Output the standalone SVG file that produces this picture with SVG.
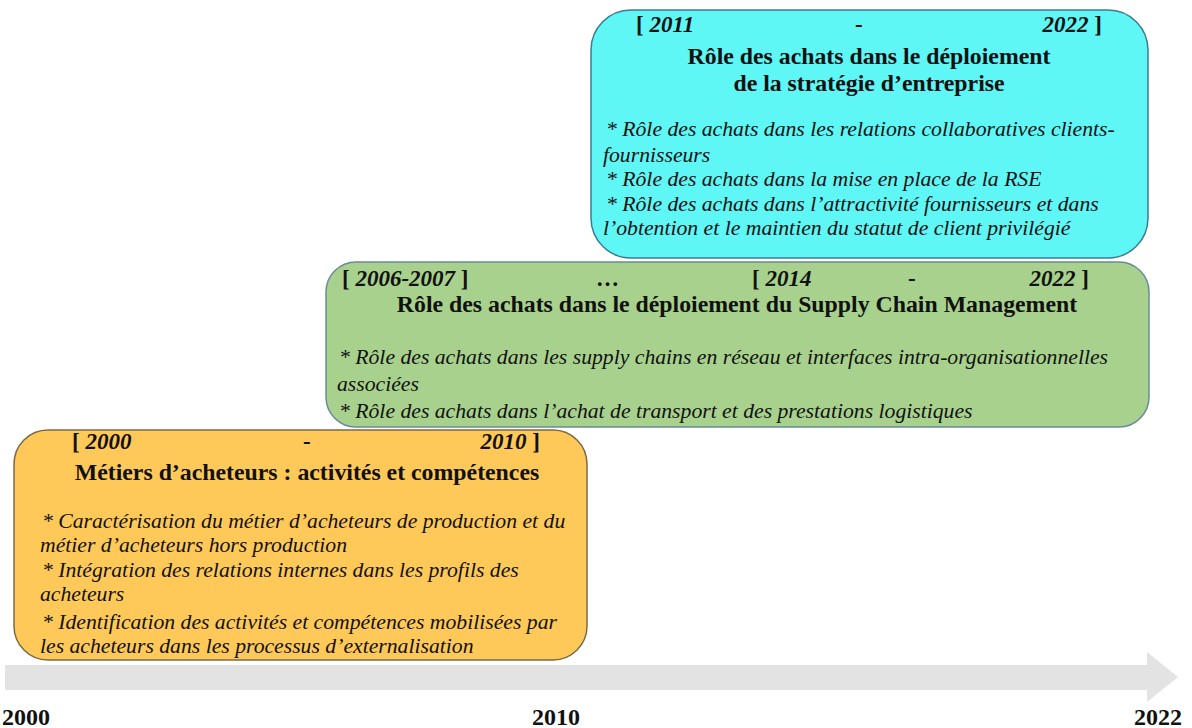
<svg xmlns="http://www.w3.org/2000/svg" width="1192" height="728" viewBox="0 0 1192 728">
<style>
.t{font-family:"Liberation Serif","Times New Roman",serif;fill:#111}
.yr{font-size:23px;font-weight:bold;font-style:italic}
.br{font-size:23px;font-weight:bold}
.ti{font-size:23.8px;font-weight:bold}
.bu{font-size:21.7px;font-style:italic}
.ax{font-size:24px;font-weight:bold}
</style>
<rect width="1192" height="728" fill="#ffffff"/>
<g id="timeline">
<polygon points="5,665 1147,665 1147,652 1178,677 1147,702 1147,690 5,690" fill="#e3e3e3"/>
<text class="t ax" x="2" y="725">2000</text>
<text class="t ax" x="556" y="725" text-anchor="middle">2010</text>
<text class="t ax" x="1182" y="725" text-anchor="end">2022</text>
</g>
<g id="box-2011-2022">
<rect x="591" y="10" width="557" height="248" rx="40" fill="#5ff6f6" stroke="#3d7c93" stroke-width="1.5"/>
<text class="t" x="636" y="32"><tspan class="br">[ </tspan><tspan class="yr">2011</tspan></text>
<text class="t br" x="855" y="32">-</text>
<text class="t" x="1102" y="32" text-anchor="end"><tspan class="yr">2022</tspan><tspan class="br"> ]</tspan></text>
<text class="t ti" x="869" y="64" text-anchor="middle">Rôle des achats dans le déploiement</text>
<text class="t ti" x="869" y="91" text-anchor="middle">de la stratégie d’entreprise</text>
<text class="t bu" x="606" y="136">* Rôle des achats dans les relations collaboratives clients-</text>
<text class="t bu" x="603" y="162">fournisseurs</text>
<text class="t bu" x="606" y="186">* Rôle des achats dans la mise en place de la RSE</text>
<text class="t bu" x="606" y="211">* Rôle des achats dans l’attractivité fournisseurs et dans</text>
<text class="t bu" x="603" y="235">l’obtention et le maintien du statut de client privilégié</text>
</g>
<g id="box-2006-2022">
<rect x="326" y="262" width="823" height="165" rx="30" fill="#a8d18d" stroke="#6b8a99" stroke-width="1.5"/>
<text class="t" x="342" y="286"><tspan class="br">[ </tspan><tspan class="yr">2006-2007</tspan><tspan class="br"> ]</tspan></text>
<text class="t br" x="596" y="286">…</text>
<text class="t" x="752" y="286"><tspan class="br">[ </tspan><tspan class="yr">2014</tspan></text>
<text class="t br" x="908" y="286">-</text>
<text class="t" x="1089" y="286" text-anchor="end"><tspan class="yr">2022</tspan><tspan class="br"> ]</tspan></text>
<text class="t ti" x="737" y="312" text-anchor="middle">Rôle des achats dans le déploiement du Supply Chain Management</text>
<text class="t bu" x="339" y="364">* Rôle des achats dans les supply chains en réseau et interfaces intra-organisationnelles</text>
<text class="t bu" x="337" y="391">associées</text>
<text class="t bu" x="339" y="418">* Rôle des achats dans l’achat de transport et des prestations logistiques</text>
</g>
<g id="box-2000-2010">
<rect x="14" y="430" width="573" height="230" rx="34" fill="#ffc95a" stroke="#7a6b45" stroke-width="1.5"/>
<text class="t" x="72" y="449"><tspan class="br">[ </tspan><tspan class="yr">2000</tspan></text>
<text class="t br" x="303" y="449">-</text>
<text class="t" x="540" y="449" text-anchor="end"><tspan class="yr">2010</tspan><tspan class="br"> ]</tspan></text>
<text class="t ti" x="307" y="480" text-anchor="middle">Métiers d’acheteurs : activités et compétences</text>
<text class="t bu" x="42" y="528">* Caractérisation du métier d’acheteurs de production et du</text>
<text class="t bu" x="40" y="552">métier d’acheteurs hors production</text>
<text class="t bu" x="42" y="577">* Intégration des relations internes dans les profils des</text>
<text class="t bu" x="40" y="601">acheteurs</text>
<text class="t bu" x="42" y="629">* Identification des activités et compétences mobilisées par</text>
<text class="t bu" x="40" y="653">les acheteurs dans les processus d’externalisation</text>
</g>
</svg>
